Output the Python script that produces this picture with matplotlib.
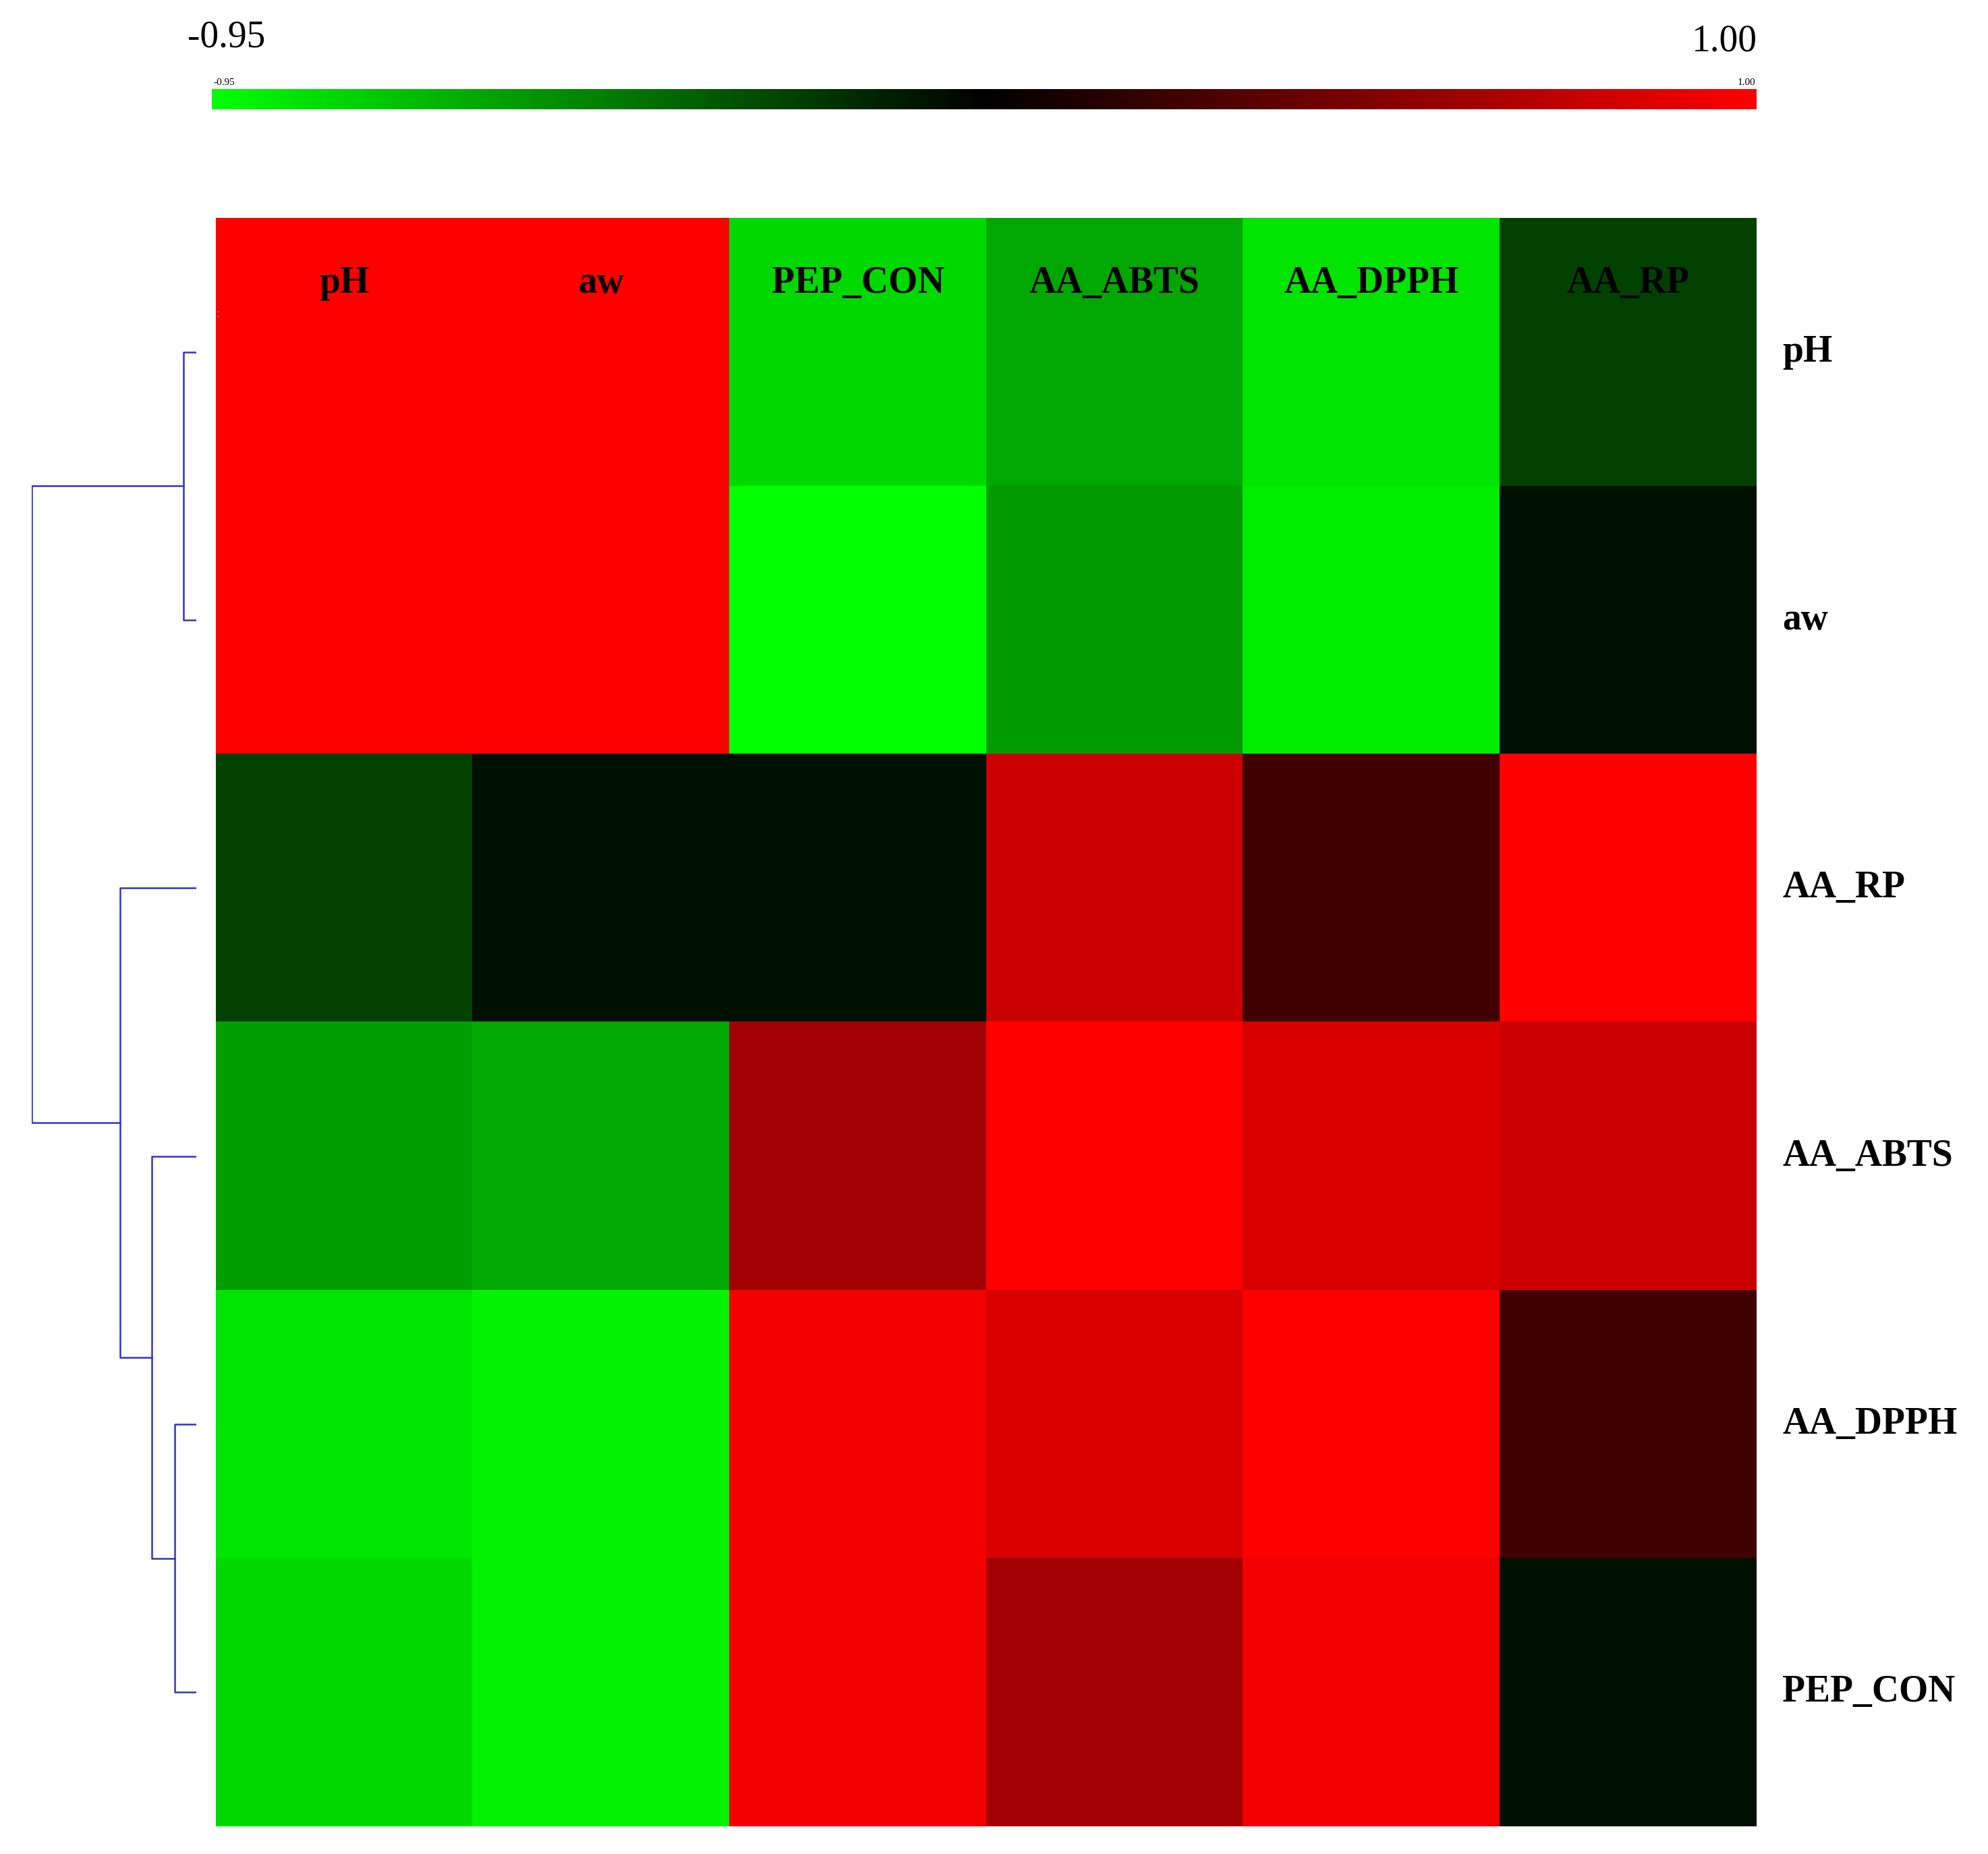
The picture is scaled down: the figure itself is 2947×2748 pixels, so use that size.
import matplotlib.pyplot as plt
import numpy as np
from matplotlib.colors import LinearSegmentedColormap

rows = ["pH", "aw", "AA_RP", "AA_ABTS", "AA_DPPH", "PEP_CON"]
cols = ["pH", "aw", "PEP_CON", "AA_ABTS", "AA_DPPH", "AA_RP"]
values = np.array([
    [1.00, 1.00, -0.80, -0.61, -0.85, -0.22],
    [1.00, 1.00, -0.95, -0.56, -0.88, -0.04],
    [-0.22, -0.04, -0.04, 0.80, 0.27, 1.00],
    [-0.58, -0.61, 0.64, 1.00, 0.85, 0.80],
    [-0.85, -0.90, 0.95, 0.85, 1.00, 0.27],
    [-0.80, -0.90, 0.95, 0.64, 0.95, -0.04],
])
vmin, vmax = -0.95, 1.00

# dendrogram merges: (left leaf centre, right leaf centre, height)
merges = [(0, 1, 10), (4, 5, 17), (3, 4.5, 35), (2, 3.75, 60), (0.5, 2.875, 130)]
# child heights for each merge (left, right)
child_h = [(0, 0), (0, 0), (0, 17), (0, 35), (10, 60)]

plt.rcParams['font.family'] = ['Liberation Serif', 'DejaVu Serif']
W, H = 2947, 2748
fig = plt.figure(figsize=(W / 100, H / 100), dpi=100)
cmap = LinearSegmentedColormap.from_list("gkr", [(0, 1, 0), (0, 0, 0), (1, 0, 0)])

def box(x0, y0, x1, y1):
    return [x0 / W, 1 - y1 / H, (x1 - x0) / W, (y1 - y0) / H]

ax = fig.add_axes(box(320, 323, 2604, 2707))
ax.imshow(values, cmap=cmap, vmin=vmin, vmax=vmax, aspect='auto', interpolation='nearest')
ax.set_xticks([])
ax.set_yticks([])
for s in ax.spines.values():
    s.set_visible(False)
for j, c in enumerate(cols):
    ax.text(j, -0.19, c, ha='center', va='bottom', fontsize=40, fontweight='bold')
for i, r in enumerate(rows):
    ax.text(5.6, i, r, ha='left', va='center', fontsize=40, fontweight='bold')
ax.text(-0.5, -0.12, ":", ha='left', va='bottom', fontsize=14, color='gray')

# dendrogram
dax = fig.add_axes(box(47, 323, 291, 2707))
dax.set_xlim(130, 0)
dax.set_ylim(5.5, -0.5)
dax.axis('off')
for (a, b, h), (ha_, hb_) in zip(merges, child_h):
    dax.plot([ha_, h, h, hb_], [a, a, b, b], color='#3333cc', lw=1.8)

# colorbar
cax = fig.add_axes(box(314, 132, 2604, 162))
cax.imshow(np.linspace(vmin, vmax, 512)[None, :], cmap=cmap, aspect='auto',
           extent=[vmin, vmax, 0, 1])
cax.axis('off')
fig.text(278 / W, 1 - 56 / H, "-0.95", ha='left', va='center', fontsize=40)
fig.text(2604 / W, 1 - 62 / H, "1.00", ha='right', va='center', fontsize=40)
fig.text(316 / W, 1 - 122 / H, "-0.95", ha='left', va='center', fontsize=11)
fig.text(2602 / W, 1 - 122 / H, "1.00", ha='right', va='center', fontsize=11)

fig.savefig("out.png", dpi=100, facecolor='white')
